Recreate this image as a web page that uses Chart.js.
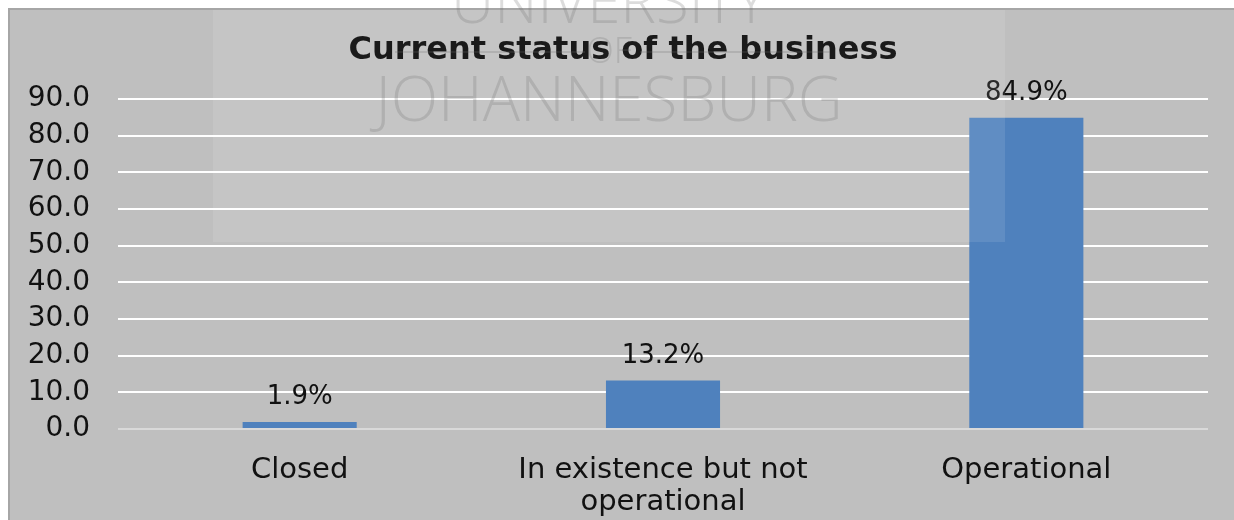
<!DOCTYPE html>
<html>
<head>
<meta charset="utf-8">
<title>Current status of the business</title>
<script src="https://cdn.jsdelivr.net/npm/chart.js@4/dist/chart.umd.min.js"></script>
<style>
    html, body { margin: 0; padding: 0; background: #ffffff; }
    canvas { display: block; }
</style>
</head>
<body>
<canvas id="statusChart" width="1234" height="520"></canvas>
<script>
// Survey results: share of businesses by current status (%)
const categories = ['Closed', ['In existence but not', 'operational'], 'Operational'];
const shares = [1.9, 13.2, 84.9];
const yTicks = { min: 0, max: 90, step: 10 };

const TITLE = 'Current status of the business';
const WATERMARK = ['UNIVERSITY', 'OF', 'JOHANNESBURG'];

const BAR_COLOR = '#4f81bd';
const TEXT_COLOR = '#111111';
const FONT = "'DejaVu Sans', sans-serif";

// Grey panel with a thin darker frame behind the whole chart
const panelBackground = {
    id: 'panelBackground',
    beforeDraw(chart) {
        const ctx = chart.ctx;
        ctx.save();
        ctx.fillStyle = '#ffffff';
        ctx.fillRect(0, 0, chart.width, chart.height);
        ctx.fillStyle = '#a6a6a6';
        ctx.fillRect(8, 8, chart.width - 8, chart.height - 8);
        ctx.fillStyle = '#bfbfbf';
        ctx.fillRect(10, 10, chart.width - 10, chart.height - 10);
        ctx.restore();
    }
};

// Bold heading, centred a little right of the canvas middle
const chartHeading = {
    id: 'chartHeading',
    afterDatasetsDraw(chart) {
        const ctx = chart.ctx;
        ctx.save();
        ctx.font = `bold 32px ${FONT}`;
        ctx.fillStyle = '#000000';
        ctx.textAlign = 'center';
        ctx.textBaseline = 'alphabetic';
        ctx.fillText(TITLE, 623, 59);
        ctx.restore();
    }
};

// Percentage label above each bar
const valueLabels = {
    id: 'valueLabels',
    afterDatasetsDraw(chart) {
        const ctx = chart.ctx;
        const meta = chart.getDatasetMeta(0);
        ctx.save();
        ctx.font = `26px ${FONT}`;
        ctx.fillStyle = TEXT_COLOR;
        ctx.textAlign = 'center';
        ctx.textBaseline = 'alphabetic';
        meta.data.forEach((bar, i) => {
            ctx.fillText(shares[i].toFixed(1) + '%', bar.x, bar.y - 18);
        });
        ctx.restore();
    }
};

// Faint university stamp laid over the upper part of the chart
const watermark = {
    id: 'watermark',
    afterDraw(chart) {
        const ctx = chart.ctx;
        const cx = 609;
        ctx.save();
        ctx.fillStyle = 'rgba(255, 255, 255, 0.1)';
        ctx.fillRect(213, 10, 792, 232);

        ctx.fillStyle = 'rgba(110, 110, 110, 0.24)';
        ctx.strokeStyle = 'rgba(110, 110, 110, 0.22)';
        ctx.textAlign = 'center';
        ctx.textBaseline = 'alphabetic';
        ctx.font = "300 60px 'Open Sans', 'Liberation Sans', sans-serif";
        ctx.fillText(WATERMARK[0], cx, 23);
        ctx.font = "300 36px 'Open Sans', 'Liberation Sans', sans-serif";
        ctx.fillText(WATERMARK[1], cx, 63);
        ctx.font = "300 62px 'Open Sans', 'Liberation Sans', sans-serif";
        ctx.fillText(WATERMARK[2], cx, 121);

        ctx.lineWidth = 2;
        ctx.beginPath();
        ctx.moveTo(395, 52);
        ctx.lineTo(585, 52);
        ctx.moveTo(640, 52);
        ctx.lineTo(830, 52);
        ctx.stroke();
        ctx.restore();
    }
};

function createStatusChart() {
    const ctx = document.getElementById('statusChart');

    new Chart(ctx, {
        type: 'bar',
        data: {
            labels: categories,
            datasets: [{
                data: shares,
                backgroundColor: BAR_COLOR,
                borderWidth: 0,
                categoryPercentage: 1,
                barPercentage: 0.314
            }]
        },
        options: {
            responsive: false,
            animation: false,
            layout: {
                padding: { left: 0, right: 26, top: 99, bottom: 0 }
            },
            plugins: {
                legend: { display: false },
                tooltip: { enabled: false },
                title: { display: false }
            },
            scales: {
                x: {
                    grid: { display: false },
                    border: { display: false },
                    ticks: {
                        color: TEXT_COLOR,
                        font: { family: FONT, size: 29, lineHeight: 1.1 },
                        padding: 18,
                        maxRotation: 0,
                        autoSkip: false
                    },
                    afterFit(scale) {
                        scale.height = 91;
                    }
                },
                y: {
                    min: yTicks.min,
                    max: yTicks.max,
                    border: { display: false },
                    grid: {
                        drawTicks: false,
                        lineWidth: 2,
                        color: c => (c.tick && c.tick.value === 0 ? '#d9d9d9' : '#ffffff')
                    },
                    ticks: {
                        stepSize: yTicks.step,
                        color: TEXT_COLOR,
                        font: { family: FONT, size: 28 },
                        padding: 28,
                        callback: v => Number(v).toFixed(1)
                    },
                    afterFit(scale) {
                        scale.width = 118;
                    }
                }
            }
        },
        plugins: [panelBackground, chartHeading, valueLabels, watermark]
    });
}

document.addEventListener('DOMContentLoaded', createStatusChart);
</script>
</body>
</html>
